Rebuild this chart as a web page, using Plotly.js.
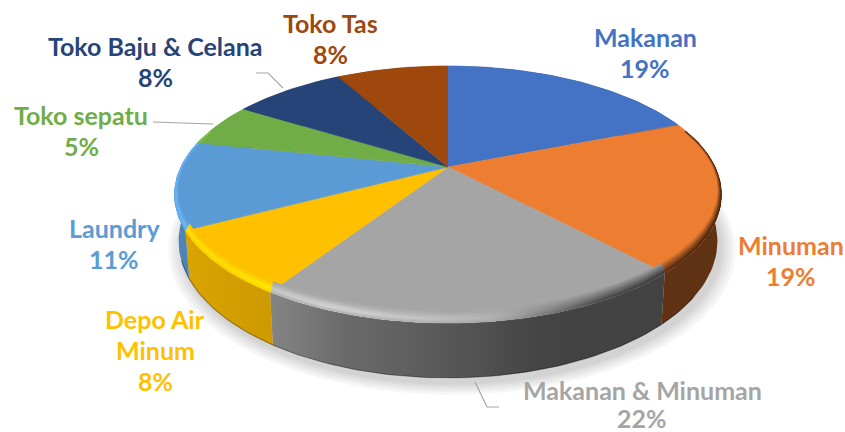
<!DOCTYPE html>
<html><head><meta charset="utf-8">
<script src="https://cdn.plot.ly/plotly-3.0.1.min.js"></script>
<style>html,body{margin:0;padding:0;background:#fff}#c{width:845px;height:432px}</style>
</head><body><div id="c"></div>
<script>
// ---- data ----
const categories = ["Makanan","Minuman","Makanan & Minuman","Depo Air Minum","Laundry","Toko sepatu","Toko Baju & Celana","Toko Tas"];
const values = [19.0,19.0,21.2,8.1,11.0,5.5,8.1,8.1];
const percentLabels = ["19%","19%","22%","8%","11%","5%","8%","8%"];
const colors = ["#4472c4","#ed7d31","#a5a5a5","#ffc000","#5b9bd5","#70ad47","#264478","#9e480e"];
const labelLines = [["Makanan"],["Minuman"],["Makanan & Minuman"],["Depo Air","Minum"],["Laundry"],["Toko sepatu"],["Toko Baju & Celana"],["Toko Tas"]];
const labelX = [645,791,642,155,114,81,155,330];
const labelY = [37,245,390,319,228,115,46,23];
const labelStep = [31,31,28,31,31,31,31,31];
const leaderX = [[475,487,499],[153,213],[256,268,283]];
const leaderY = [[382,407,407],[122,124],[73,73,88]];
// ---- projection of the tilted disc ----
const cx=448, cy=167, A=267.2, B=122.7, K=0.214, depthScale=0.985, depth=45;
function topPt(r,deg){const a=deg*Math.PI/180,u=r*Math.sin(a),v=r*Math.cos(a),d=1+K*v;return [cx+A*u/d,cy-B*v/d];}
function botPt(r,deg){const p=topPt(r,deg),v=r*Math.cos(deg*Math.PI/180);return [cx+(p[0]-cx)*depthScale,cy+(p[1]-cy)*depthScale+depth/(1+K*v)];}
function hex(c){return [1,3,5].map(i=>parseInt(c.substr(i,2),16));}
function rgb(a){return "rgb("+a.map(x=>Math.round(Math.max(0,Math.min(255,x)))).join(",")+")";}
function mixTo(a,target,t){return a.map((x,i)=>x+(target[i]-x)*t);}
function interp(xs,ys,x){if(x<=xs[0])return ys[0];for(let i=1;i<xs.length;i++)if(x<=xs[i])return ys[i-1]+(ys[i]-ys[i-1])*(x-xs[i-1])/(xs[i]-xs[i-1]);return ys[ys.length-1];}
const wallXs=[175,274,340,450,540,722], wallMul=[0.86,0.8,0.65,0.53,0.41,0.40];
const hlXs=[175,230,330,420,520,620], hlAmt=[0.5,0.5,0.8,0.55,0.12,0];
const dkXs=[500,600,722], dkAmt=[0,0.55,0.72];
const X0=170,X1=730;
function gradient(f){const n=28,s=[];for(let i=0;i<=n;i++){const x=X0+(X1-X0)*i/n;s.push([i/n,f(x)]);}return {type:"horizontal",start:X0,stop:X1,colorscale:s};}
function arc(fn,r,a0,a1){const n=Math.max(2,Math.ceil((a1-a0)/1.5)),xs=[],ys=[];for(let i=0;i<=n;i++){const p=fn(r,a0+(a1-a0)*i/n);xs.push(p[0]);ys.push(p[1]);}return [xs,ys];}
const traces=[];
function poly(xs,ys,extra){traces.push(Object.assign({type:"scatter",mode:"lines",x:xs,y:ys,fill:"toself",line:{width:0},hoverinfo:"skip",showlegend:false},extra));}
// soft shadow
[1.05,1.038,1.026,1.014,1.004].forEach(r=>{const e=arc(botPt,r,0,360);poly(e[0].map(x=>x+4),e[1].map(y=>y+6),{fillcolor:"rgba(0,0,0,0.035)"});});
// slices
const total=values.reduce((a,b)=>a+b,0);let cum=0;const edges=[];
values.forEach(v=>{edges.push([cum/total*360,(cum+v)/total*360]);cum+=v;});
// walls
edges.forEach((e,i)=>{const base=hex(colors[i]);const t=arc(topPt,1,e[0],e[1]),b=arc(botPt,1,e[0],e[1]);
 poly(t[0].concat(b[0].slice().reverse()),t[1].concat(b[1].slice().reverse()),{fillgradient:gradient(x=>rgb(base.map(q=>q*interp(wallXs,wallMul,x))))});});
// dark lower edge of the front wall
(function(){const b=arc(botPt,0.999,125,250);traces.push({type:"scatter",mode:"lines",x:b[0],y:b[1],line:{color:"rgba(0,0,0,0.3)",width:1.2},hoverinfo:"skip",showlegend:false});})();
// top faces
edges.forEach((e,i)=>{const t=arc(topPt,1,e[0],e[1]);poly([cx].concat(t[0]),[cy].concat(t[1]),{fillcolor:colors[i],line:{width:0.6,color:colors[i]}});});
// bevel: crescents between the rim and the rim moved inward, widest at the front
const fracs=[1,0.85,0.7,0.55,0.4,0.25,0.12], bevelH=10, bevelR=0.014;
const pL=[0.08,0.22,0.42,0.65,0.8,0.6,0.3], pD=[0.15,0.3,0.45,0.6,0.75,0.9,1];
function inner(f,deg){const p=topPt(1-bevelR*f,deg);const h=bevelH*f*Math.max(0,0.35-Math.cos(deg*Math.PI/180))/1.35;return [p[0],p[1]-h];}
edges.forEach((e,i)=>{const a0=Math.max(e[0],72),a1=Math.min(e[1],288);if(a1<=a0)return;const base=hex(colors[i]);
 fracs.forEach((f,k)=>{const o=arc(topPt,1,a0,a1),n=arc((r,d)=>inner(f,d),1,a0,a1);
  poly(o[0].concat(n[0].slice().reverse()),o[1].concat(n[1].slice().reverse()),{fillgradient:gradient(x=>{
    const hi=interp(hlXs,hlAmt,x)*pL[k],dk=interp(dkXs,dkAmt,x)*pD[k];
    return rgb(mixTo(base.map(q=>q*(1+0.42*hi)),[0,0,0],dk));})});
 });});
// leader lines
leaderX.forEach((xs,i)=>traces.push({type:"scatter",mode:"lines",x:xs,y:leaderY[i],line:{color:"#a6a6a6",width:1.2},hoverinfo:"skip",showlegend:false}));
// labels
const annotations=[];
categories.forEach((cat,i)=>{const lines=labelLines[i].concat([percentLabels[i]]);
 lines.forEach((t,k)=>annotations.push({xref:"x",yref:"y",x:labelX[i],y:labelY[i]+k*labelStep[i],text:t,showarrow:false,xanchor:"center",yanchor:"middle",
  font:{family:"Lato, Carlito, 'Open Sans', sans-serif",size:25,weight:700,color:colors[i]}}));});
const ax={range:[0,845],visible:false,fixedrange:true};
Plotly.newPlot("c",traces,{width:845,height:432,margin:{l:0,r:0,t:0,b:0},paper_bgcolor:"#fff",plot_bgcolor:"#fff",showlegend:false,
 xaxis:ax,yaxis:{range:[432,0],visible:false,fixedrange:true},annotations:annotations},{displayModeBar:false,staticPlot:true});
</script></body></html>
